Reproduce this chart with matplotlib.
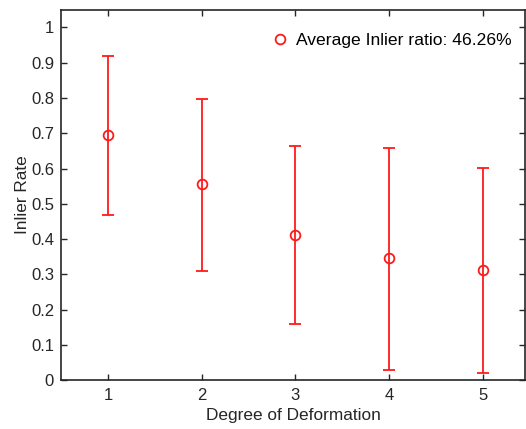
import matplotlib
matplotlib.use("Agg")
import matplotlib.pyplot as plt
from matplotlib.lines import Line2D

plt.rcParams['font.family'] = ['Liberation Sans', 'DejaVu Sans']

degree = [1, 2, 3, 4, 5]
mean_rate = [0.695, 0.555, 0.412, 0.345, 0.312]
upper = [0.918, 0.798, 0.663, 0.657, 0.601]
lower = [0.468, 0.309, 0.158, 0.030, 0.020]
label = "Average Inlier ratio: 46.26%"

err_lo = [m - l for m, l in zip(mean_rate, lower)]
err_hi = [u - m for m, u in zip(mean_rate, upper)]
red = '#ff1a1a'

fig = plt.figure(figsize=(5.26, 4.29), dpi=100)
ax = fig.add_axes([0.116, 0.114, 0.882, 0.863])
ax.errorbar(degree, mean_rate, yerr=[err_lo, err_hi], fmt='o', color=red,
            mfc='none', mec=red, ms=7, mew=1.3, elinewidth=1.3,
            capsize=4, capthick=1.3)

ax.set_xlim(0.5, 5.45)
ax.set_ylim(0, 1.05)
ax.set_xticks(degree)
ax.set_yticks([0, 0.1, 0.2, 0.3, 0.4, 0.5, 0.6, 0.7, 0.8, 0.9, 1])
ax.set_yticklabels(['0', '0.1', '0.2', '0.3', '0.4', '0.5', '0.6', '0.7', '0.8', '0.9', '1'])
ax.tick_params(direction='in', top=True, right=True, labelsize=12, length=4, width=1,
               colors='#262626')
ax.tick_params(axis='x', pad=6)
ax.tick_params(axis='y', pad=5)
for s in ax.spines.values():
    s.set_linewidth(1.2)
    s.set_color('#262626')
ax.set_xlabel('Degree of Deformation', fontsize=12.4, color='#262626', labelpad=3)
ax.set_ylabel('Inlier Rate', fontsize=12.4, color='#262626', labelpad=1)
handle = Line2D([], [], ls='none', marker='o', ms=7, mfc='none', mec=red, mew=1.3)
ax.legend([handle], [label], loc='upper right', frameon=False, fontsize=12.6,
          handletextpad=-0.1, borderaxespad=0.9, bbox_to_anchor=(1.02, 1.0))

fig.savefig("out.png", dpi=100)
